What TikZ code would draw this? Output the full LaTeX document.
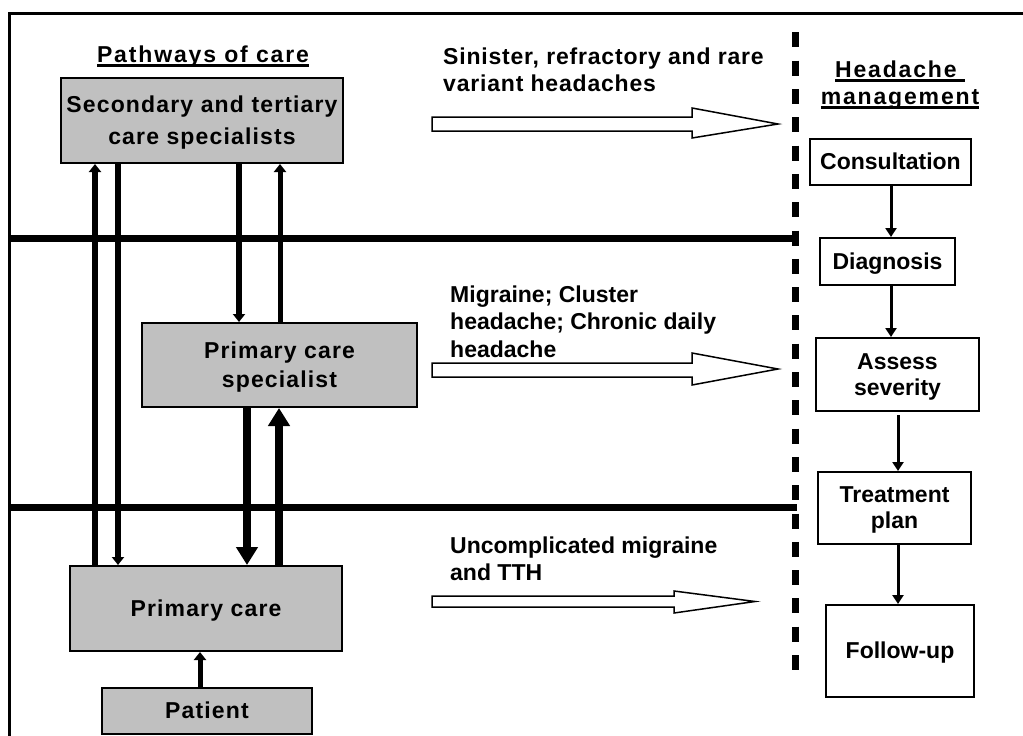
\documentclass[tikz,border=0pt]{standalone}
\usepackage{fontspec}
\setmainfont{Liberation Sans}
\newfontfamily\spA[LetterSpace=5]{Liberation Sans}
\newfontfamily\spL[LetterSpace=3.5]{Liberation Sans}
\newfontfamily\spT[LetterSpace=8]{Liberation Sans}
\usetikzlibrary{arrows.meta}
\definecolor{boxgray}{HTML}{C0C0C0}
\newcommand{\thickul}[1]{\setbox0\hbox{#1}\rlap{\rule[-5pt]{\wd0}{3.4pt}}\box0}
\newcommand{\lstrut}{\rule[-4.9pt]{0pt}{25.7pt}}
\begin{document}
\begin{tikzpicture}[x=1pt,y=-1pt,
  graybox/.style={draw=black, line width=2pt, fill=boxgray, inner sep=0pt, align=center,
    font=\spA\bfseries\fontsize{23}{30}\selectfont},
  whitebox/.style={draw=black, line width=2pt, fill=white, inner sep=0pt, align=center,
    font=\bfseries\fontsize{23}{26}\selectfont},
  lbltext/.style={anchor=north west, align=left, inner sep=0pt,
    font=\bfseries\fontsize{23}{27.5}\selectfont},
  titletext/.style={anchor=base, inner sep=0pt, font=\spT\bfseries\fontsize{23}{27}\selectfont},
  thinarr/.style={line width=6pt, -{Triangle[width=12pt,length=8pt]}},
  bigarr/.style={line width=8.5pt, -{Triangle[width=21pt,length=18pt]}},
  rarr/.style={line width=3pt, -{Triangle[width=11pt,length=9pt]}},
  sepline/.style={line width=7pt},
  dashline/.style={line width=7pt, dash pattern=on 15pt off 13.3pt},
  blockarr/.style={draw=black, line width=1.5pt, fill=white, line join=miter},
  frameline/.style={line width=3pt}
]
\useasboundingbox (0,0) rectangle (1023,736);

% frame
\draw[frameline] (9,736) -- (9,13.5) -- (1023,13.5);

% separators
\draw[sepline] (9,238) -- (797,238);
\draw[sepline] (9,507) -- (797,507);
\draw[dashline] (795,32.4) -- (795,672);

% titles
\node[titletext] (t1) at (203,62) {\thickul{Pathways of care}};
\node[titletext] (t2) at (900,77) {\thickul{Headache\ }};
\node[titletext] (t3) at (900,104) {\thickul{management}};

% left boxes
\node[graybox, font=\spA\bfseries\fontsize{23}{32}\selectfont,
  minimum width=282pt, minimum height=85pt] (sec) at (202,120.5)
  {\lstrut Secondary and tertiary\\\lstrut care specialists};
\node[graybox, font=\spA\bfseries\fontsize{23}{29}\selectfont,
  minimum width=275pt, minimum height=84pt] (pcs) at (279.5,365)
  {\lstrut Primary care\\\lstrut specialist};
\node[graybox, minimum width=272pt, minimum height=85pt] (prim) at (206,608.5)
  {\lstrut Primary care};
\node[graybox, minimum width=210pt, minimum height=46pt] (pat) at (207,711)
  {\lstrut Patient};

% right boxes
\node[whitebox, minimum width=161pt, minimum height=46pt] (cons) at (890.5,162) {\lstrut Consultation};
\node[whitebox, minimum width=135pt, minimum height=47pt] (diag) at (887.5,261.5) {\lstrut Diagnosis};
\node[whitebox, minimum width=163pt, minimum height=73pt] (assess) at (897.5,374.5) {\lstrut Assess\\\lstrut severity};
\node[whitebox, minimum width=153pt, minimum height=72pt] (treat) at (894.5,508) {\lstrut Treatment\\\lstrut plan};
\node[whitebox, minimum width=148pt, minimum height=92pt] (follow) at (900,651) {\lstrut Follow-up};

% column coordinates
\coordinate (xa) at (95,0);
\coordinate (xb) at (118,0);
\coordinate (xc) at (239,0);
\coordinate (xd) at (280,0);
\coordinate (xe) at (247,0);
\coordinate (xf) at (279,0);
\coordinate (xg) at (200,0);
\coordinate (xr1) at (891,0);
\coordinate (xr2) at (898,0);

% left arrows
\draw[thinarr] (prim.north -| xa) -- (sec.south -| xa);
\draw[thinarr] (sec.south -| xb) -- (prim.north -| xb);
\draw[thinarr] (sec.south -| xc) -- (pcs.north -| xc);
\draw[thinarr, line width=5pt] (pcs.north -| xd) -- (sec.south -| xd);
\draw[bigarr] (pcs.south -| xe) -- (prim.north -| xe);
\draw[bigarr, line width=8pt] (prim.north -| xf) -- (pcs.south -| xf);
\draw[thinarr, line width=5pt] (pat.north -| xg) -- (prim.south -| xg);

% right arrows
\draw[rarr] (cons.south -| xr1) -- (diag.north -| xr1);
\draw[rarr] (diag.south -| xr1) -- (assess.north -| xr1);
\draw[rarr] ([yshift=-3pt]assess.south -| xr2) -- (treat.north -| xr2);
\draw[rarr] (treat.south -| xr2) -- (follow.north -| xr2);

% block arrows
\draw[blockarr] (432,117) -- (692,117) -- (692,108) -- (778,124) -- (692,138) -- (692,131) -- (432,131) -- cycle;
\draw[blockarr] (432,363) -- (692,363) -- (692,353) -- (778,369) -- (692,385) -- (692,377) -- (432,377) -- cycle;
\draw[blockarr] (432,596) -- (674,596) -- (674,591) -- (755,601.5) -- (674,613) -- (674,607) -- (432,607) -- cycle;

% labels
\node[lbltext, font=\spL\bfseries\fontsize{23}{27.5}\selectfont] (l1) at (443,47.5) {Sinister, refractory and rare\\variant headaches};
\node[lbltext] (l2) at (450,285.5) {Migraine; Cluster\\headache; Chronic daily\\headache};
\node[lbltext] (l3) at (450,536.5) {Uncomplicated migraine\\and TTH};
\end{tikzpicture}
\end{document}
